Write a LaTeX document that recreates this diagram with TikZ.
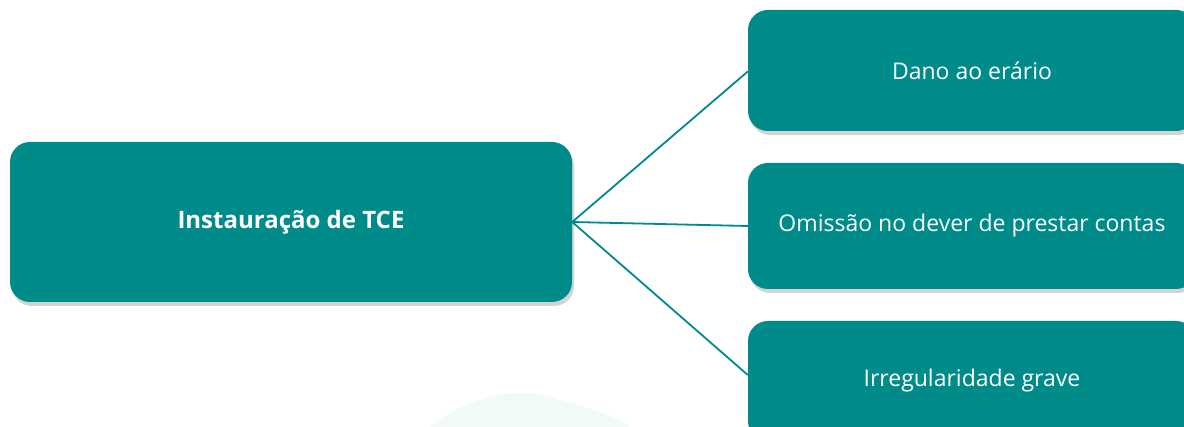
\documentclass[tikz,border=0pt]{standalone}
\usepackage{fontspec}
\setmainfont{Open Sans}
\usetikzlibrary{shadows}
\definecolor{teal1}{RGB}{0,139,139}
\tikzset{
  box/.style={fill=teal1, rounded corners=20pt, text=white, font=\fontsize{23}{27}\selectfont,
    drop shadow={opacity=0.35, shadow xshift=2pt, shadow yshift=-4pt}, inner sep=0pt},
  link/.style={draw=teal1, line width=1.8pt}
}
\begin{document}
\begin{tikzpicture}[x=1pt,y=-1pt]
\useasboundingbox (0,0) rectangle (1184,427);
\clip (0,0) rectangle (1184,427);
\fill[teal1!5] (430,427) .. controls (470,395) and (520,385) .. (560,400) .. controls (600,410) and (620,420) .. (630,427) -- cycle;
\node[box, minimum width=562pt, minimum height=160pt, font=\fontsize{24}{28}\selectfont\bfseries] (root) at (291,222) {Instauração de TCE};
\node[box, minimum width=448pt, minimum height=121pt] (a) at (972,70.5) {Dano ao erário};
\node[box, minimum width=448pt, minimum height=126pt] (b) at (972,226) {Omissão no dever de prestar contas};
\node[box, minimum width=448pt, minimum height=120pt] (c) at (972,381) {Irregularidade grave};
\draw[link] (root.east) -- ([yshift=-1pt]a.west);
\draw[link] (root.east) -- (b.west);
\draw[link] (root.east) -- ([yshift=6pt]c.west);
\end{tikzpicture}
\end{document}
